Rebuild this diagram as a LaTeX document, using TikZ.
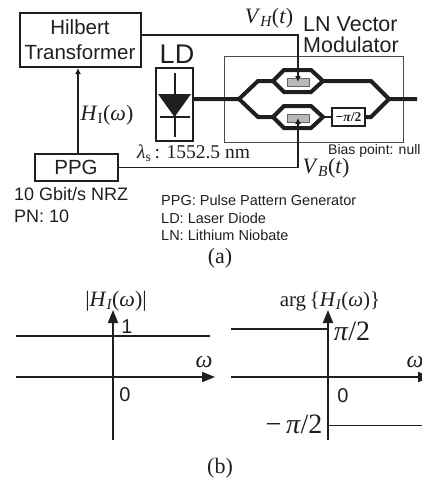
\documentclass[tikz,border=0pt]{standalone}
\usepackage{fontspec}
\setsansfont{Liberation Sans}
\setmainfont{Liberation Serif}
\usepackage{amsmath}
\usetikzlibrary{arrows.meta,calc}
\definecolor{ink}{gray}{0.12}
\newcommand{\iv}[1]{\textit{#1}}
\tikzset{
  boxnode/.style={draw=ink,line width=2pt,inner sep=0pt,align=center,font=\sffamily,text=ink},
  sans/.style={inner sep=0pt,text=ink,font=\sffamily\fontsize{#1}{#1}\selectfont},
  serif/.style={inner sep=0pt,text=ink,font=\fontsize{#1}{#1}\selectfont},
  wave/.style={draw=ink,line width=4pt,line join=miter},
  thin line/.style={draw=ink,line width=1.3pt},
  axis/.style={draw=ink,line width=2pt,-{Triangle[length=13pt,width=10pt]}},
  plotline/.style={draw=ink,line width=1.9pt},
  elec/.style={draw=ink!70,fill=gray!55,line width=0.5pt,minimum width=22pt,minimum height=8pt,inner sep=0pt}
}
\begin{document}
\begin{tikzpicture}[x=1pt,y=-1pt]
\useasboundingbox (0,0) rectangle (422,480);
\clip (0,0) rectangle (422,480);
% boxes
\node[boxnode,minimum width=121pt,minimum height=54pt,font=\sffamily\fontsize{20.5}{25}\selectfont] (hilbert) at (80,40) {Hilbert\\Transformer};
\node[boxnode,minimum width=83pt,minimum height=27pt,font=\sffamily\fontsize{20.5}{20}\selectfont] (ppg) at (76,167.5) {PPG};
\node[boxnode,minimum width=37pt,minimum height=73pt] (ld) at (174.5,104.5) {};
\node[draw=ink!80,line width=0.7pt,minimum width=179pt,minimum height=86pt,inner sep=0pt] (lnbox) at (313.5,99) {};
\node[sans=27] (ldlabel) at (177,54) {LD};
% diode
\coordinate (dt) at (174.5,73);
\coordinate (db) at (174.5,137);
\coordinate (dl) at (158,94);
\coordinate (dr) at (191,94);
\coordinate (da) at (174.5,117);
\draw[draw=ink,line width=2pt] (dt) -- (db);
\fill[ink] (dl) -- (dr) -- (da) -- cycle;
\draw[draw=ink,line width=2pt] (160,117) -- (190,117);
% waveguide
\coordinate (sp) at (239,99);
\coordinate (cm) at (389,99);
\coordinate (wo) at (417,99);
\draw[wave] (193,99) -- (sp) -- (258,81) -- (273,81);
\draw[wave] (323,81) -- (371,81) -- (cm) -- (wo);
\draw[wave] (sp) -- (258,117) -- (273,117);
\draw[wave] (273,81) -- (284,70) -- (311,70) -- (323,81) -- (311,92) -- (284,92) -- cycle;
\draw[wave] (273,117) -- (284,106) -- (311,106) -- (323,117) -- (311,128) -- (284,128) -- cycle;
\draw[wave,line width=2.5pt] (323,117) -- (332,117);
\draw[wave] (365,117) -- (371,117) -- (cm);
\node[boxnode,line width=1.6pt,minimum width=33pt,minimum height=18pt,font=\bfseries\fontsize{13.5}{12}\selectfont] (shift) at (348.5,117) {−\textit{π}/2};
\node[elec] (eh) at (298,82) {};
\node[elec] (eb) at (298,118) {};
% connectors
\draw[thin line,-{Latex[length=6pt,width=6pt]}] (ppg.north-|78,0) -- (hilbert.south-|78,0);
\draw[thin line,-{Latex[length=6pt,width=6pt]}] (hilbert.east|-0,35) -- (298,35) -- (eh.center);
\draw[thin line,-{Latex[length=6pt,width=6pt]}] (ppg.east) -- (298,167.5) -- (eb.center);
% labels
\node[serif=22] (hi) at (107,115) {\iv{H}$_{\mathrm{I}}$(\iv{ω})};
\node[serif=19.5,anchor=west] (lam) at (137,153) {\iv{λ}$_{\mathrm{s}}$\,: 1552.5 nm};
\node[serif=22] (vh) at (269,18) {\iv{V}$_{\iv{H}}$(\iv{t})};
\node[serif=22] (vb) at (326,168) {\iv{V}$_{\iv{B}}$(\iv{t})};
\node[sans=21.5,anchor=west] (lnv) at (303,24) {LN Vector};
\node[sans=21.5,anchor=west] (mod) at (303,45) {Modulator};
\node[sans=14,anchor=west] (bias) at (328,151) {Bias point: null};
\node[sans=18,anchor=west] (rate) at (14,194) {10 Gbit/s NRZ};
\node[sans=18,anchor=west] (pn) at (14,216) {PN: 10};
\node[sans=14.5,anchor=west] (l1) at (161,200) {PPG: Pulse Pattern Generator};
\node[sans=14.5,anchor=west] (l2) at (161,218) {LD: Laser Diode};
\node[sans=14.5,anchor=west] (l3) at (161,235) {LN: Lithium Niobate};
\node[serif=22] (capa) at (220,258) {(a)};
\node[serif=22] (capb) at (220,468) {(b)};
% left plot
\coordinate (lx0) at (16,377);
\coordinate (lx1) at (215,377);
\coordinate (ly0) at (113,440);
\coordinate (ly1) at (113,310);
\draw[axis] (lx0) -- (lx1);
\draw[axis] (ly0) -- (ly1);
\coordinate (l1a) at (16,336);
\coordinate (l1b) at (210,336);
\draw[plotline] (l1a) -- (l1b);
\node[serif=22] (labs) at (116,301) {|\iv{H}$_{\iv{I}}$(\iv{ω})|};
\node[sans=20] (one) at (127,327) {1};
\node[sans=20] (lz) at (125,395) {0};
\node[serif=24] (lw) at (204,362) {\iv{ω}};
% right plot
\coordinate (rx0) at (231,377);
\coordinate (rx1) at (431,377);
\coordinate (ry0) at (328,440);
\coordinate (ry1) at (328,310);
\draw[axis] (rx0) -- (rx1);
\draw[axis] (ry0) -- (ry1);
\coordinate (ra) at (231,329);
\coordinate (rb) at (328,329);
\coordinate (rc) at (328,425.5);
\coordinate (rd) at (422,425.5);
\draw[plotline] (ra) -- (rb);
\draw[plotline] (rc) -- (rd);
\node[serif=21] (rarg) at (330,301) {arg\,\{\iv{H}$_{\iv{I}}$(\iv{ω})\}};
\node[serif=28] (rp) at (352,331) {\iv{π}/2};
\node[serif=28] (rm) at (294,424) {−\,\iv{π}/2};
\node[sans=20] (rz) at (343,396) {0};
\node[serif=24] (rw) at (415,362) {\iv{ω}};
\end{tikzpicture}
\end{document}
